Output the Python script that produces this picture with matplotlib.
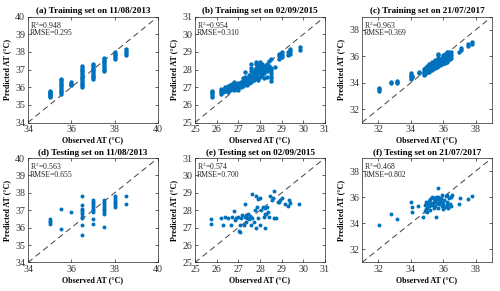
import matplotlib
matplotlib.use("Agg")
import matplotlib.pyplot as plt
import numpy as np

plt.rcParams["font.family"] = ["Liberation Serif", "DejaVu Serif"]
plt.rcParams["mathtext.fontset"] = "stix"

BLUE = "#0072BD"
GREY = "#262626"

# (a) training 11/08/2013
obs_a = [35.0] * 8 + [35.5] * 10 + [36.0] * 4 + [36.5] * 13 + [37.0] * 10 + [37.5] * 9 + [38.0] * 5 + [38.5] * 4
pred_a = [35.45, 35.5, 35.55, 35.6, 35.65, 35.7, 35.75, 35.8,
          35.6, 35.7, 35.8, 35.9, 36.0, 36.1, 36.2, 36.3, 36.4, 36.45,
          36.1, 36.15, 36.2, 36.3,
          36.0, 36.1, 36.2, 36.3, 36.4, 36.5, 36.6, 36.7, 36.8, 36.9, 36.95, 37.1, 37.2,
          36.45, 36.55, 36.65, 36.75, 36.85, 36.95, 37.05, 37.15, 37.25, 37.3,
          36.9, 37.0, 37.1, 37.2, 37.3, 37.4, 37.5, 37.6, 37.65,
          37.6, 37.7, 37.8, 37.9, 38.0,
          37.85, 37.95, 38.05, 38.15]

# (b) training 02/09/2015
obs_b = ([25.8] * 5 + [26.2] * 4 + [26.3] * 2 + [26.4] * 3 + [26.5] * 3 + [26.6] * 3 + [26.7] * 3
         + [26.8] * 4 + [26.9] * 3 + [27.0] * 4 + [27.1] * 3 + [27.2] * 4 + [27.3] * 4 + [27.4] * 3
         + [27.5] * 4 + [27.6] * 6 + [27.7] * 4 + [27.8] * 6 + [27.9] * 5 + [28.0] * 5 + [28.1] * 4
         + [28.2] * 4 + [28.3] * 4 + [28.4] * 3 + [28.5] * 7 + [28.7] * 1 + [28.9] * 3 + [29.0] * 3
         + [29.3] * 2 + [29.4] * 3 + [29.85] * 2)
pred_b = [26.45, 26.55, 26.65, 26.75, 26.8,
          26.6, 26.7, 26.8, 26.9,
          26.7, 26.85,
          26.8, 26.95, 27.0,
          26.75, 26.9, 27.05,
          26.85, 27.0, 27.1,
          26.9, 27.05, 27.2,
          26.85, 27.0, 27.15, 27.3,
          26.9, 27.05, 27.2,
          26.85, 27.0, 27.1, 27.25,
          27.0, 27.15, 27.3,
          27.05, 27.2, 27.35, 27.5,
          27.2, 27.35, 27.6, 27.85,
          27.1, 27.3, 27.45,
          27.25, 27.4, 27.55, 27.7,
          27.3, 27.5, 27.7, 27.9, 28.1, 28.3,
          27.4, 27.6, 27.8, 28.0,
          27.5, 27.7, 27.9, 28.1, 28.3, 28.4,
          27.4, 27.6, 27.85, 28.05, 28.25,
          27.6, 27.8, 28.0, 28.2, 28.4,
          27.7, 27.9, 28.1, 28.3,
          27.5, 27.8, 28.0, 28.2,
          27.6, 27.9, 28.1, 28.3,
          28.0, 28.2, 28.5,
          27.35, 27.5, 27.65, 27.8, 27.95, 28.1, 28.6,
          28.15,
          28.6, 28.75, 28.9,
          28.7, 28.85, 29.0,
          28.85, 29.0,
          28.9, 29.05, 29.15,
          29.1, 29.25]

# (c) training 21/07/2017
obs_c = ([32.05] * 3 + [32.8] * 2 + [33.15] * 3 + [34.0] * 5 + [34.1] * 2 + [34.5] * 2
         + [34.8] * 4 + [34.9] * 4 + [35.0] * 4 + [35.1] * 5 + [35.2] * 4 + [35.3] * 5 + [35.4] * 4
         + [35.5] * 5 + [35.6] * 4 + [35.7] * 7 + [35.8] * 4 + [35.9] * 4 + [36.0] * 5 + [36.1] * 5
         + [36.2] * 6 + [36.3] * 5 + [36.4] * 4 + [36.5] * 3
         + [36.95, 37.1, 37.1, 37.55, 37.55, 37.75, 37.75])
pred_c = [33.4, 33.5, 33.6,
          33.95, 34.05,
          33.95, 34.05, 34.15,
          34.3, 34.4, 34.5, 34.6, 34.75,
          34.4, 34.55,
          34.75, 34.85,
          34.6, 34.75, 34.9, 35.05,
          34.7, 34.85, 35.0, 35.15,
          34.8, 34.95, 35.1, 35.25,
          34.85, 35.0, 35.15, 35.3, 35.45,
          34.95, 35.1, 35.25, 35.4,
          35.0, 35.15, 35.3, 35.45, 35.6,
          35.1, 35.25, 35.4, 35.55,
          35.1, 35.3, 35.45, 35.6, 35.75,
          35.2, 35.35, 35.5, 35.65,
          35.3, 35.45, 35.6, 35.75, 35.9, 36.1, 36.2,
          35.35, 35.5, 35.65, 35.8,
          35.4, 35.55, 35.7, 35.85,
          35.5, 35.65, 35.8, 35.95, 36.1,
          35.5, 35.7, 35.85, 36.0, 36.15,
          35.6, 35.75, 35.9, 36.05, 36.2, 36.3,
          35.7, 35.85, 36.0, 36.15, 36.3,
          35.8, 35.95, 36.1, 36.25,
          35.9, 36.1, 36.3,
          36.3, 36.5, 36.6, 36.8, 36.9, 36.95, 37.05]

# (d) testing 11/08/2013
obs_d = [35.0] * 4 + [35.5] * 2 + [36.0] + [36.5] * 10 + [37.0] * 10 + [37.5] * 10 + [38.0] * 7 + [38.5] * 2
pred_d = [36.2, 36.3, 36.4, 36.5,
          37.05, 35.95,
          36.9,
          37.8, 37.3, 37.1, 37.0, 36.9, 36.8, 36.6, 36.55, 36.15, 35.55,
          37.6, 37.5, 37.4, 37.3, 37.2, 37.1, 37.0, 36.9, 36.5, 36.2,
          37.6, 37.5, 37.4, 37.3, 37.2, 37.1, 37.0, 36.9, 36.8, 36.05,
          37.8, 37.7, 37.6, 37.5, 37.4, 37.3, 37.2,
          37.8, 37.35]

# (e) testing 02/09/2015
obs_e = [25.76, 25.76, 26.19, 26.3, 26.4, 26.53, 26.65, 26.73, 26.8, 26.83,
         26.91, 26.98, 27.06, 27.06, 27.02, 27.14, 27.17, 27.26, 27.29, 27.3, 27.37, 27.37,
         27.41, 27.44, 27.47, 27.52, 27.6, 27.63, 27.63, 27.72, 27.75, 27.82, 27.82,
         27.87, 27.9, 27.9, 27.98, 28.02, 28.05, 28.13, 28.18, 28.21, 28.24, 28.25,
         28.28, 28.33, 28.39, 28.43, 28.48, 28.54, 28.59, 28.63, 28.66, 28.74,
         28.82, 28.89, 28.94, 29.0, 29.15, 29.27, 29.35, 29.4, 29.81]
pred_e = [27.5, 27.23, 27.54, 27.16, 27.62, 27.54, 27.16, 27.62, 27.96, 27.42,
          27.54, 27.62, 27.16, 26.73, 26.78, 27.54, 27.73, 27.16, 27.62, 28.37, 27.73, 27.35,
          27.54, 27.77, 27.5, 27.69, 27.16, 28.92, 27.54, 27.35, 28.04, 28.81, 27.0,
          28.19, 28.66, 27.54, 27.16, 28.73, 28.04, 28.19, 27.62, 26.96, 27.77, 28.15,
          27.81, 28.16, 27.89, 27.62, 28.81, 28.58, 28.69, 29.08, 27.54, 27.58,
          28.5, 28.5, 28.58, 28.69, 28.35, 28.27, 28.58, 28.39, 28.35]

# (f) testing 21/07/2017
obs_f = [32.04, 32.8, 33.13, 34.0, 34.05, 34.05, 34.45, 34.75, 35.55, 35.7, 36.2, 36.55,
         36.95, 37.05, 37.55, 37.75,
         34.85, 34.9, 34.95, 35.0, 35.0, 35.05, 35.1, 35.15, 35.2, 35.2, 35.25, 35.3,
         35.35, 35.4, 35.4, 35.45, 35.5, 35.5, 35.55, 35.6, 35.65, 35.7, 35.7, 35.75,
         35.8, 35.85, 35.9, 35.9, 35.95, 36.0, 36.0, 36.05, 36.1, 36.15, 36.2, 36.25,
         36.3, 36.35, 36.4, 36.5, 36.5, 35.3, 34.95]
pred_f = [33.85, 34.75, 34.35, 35.65, 35.25, 34.85, 35.3, 34.45, 34.5, 36.7, 36.2, 36.15,
          35.5, 35.95, 35.85, 36.1,
          34.95, 35.4, 35.6, 35.2, 34.9, 35.5, 35.7, 35.3, 35.0, 35.85, 35.55, 35.4,
          35.9, 35.15, 35.65, 35.95, 35.3, 35.75, 36.0, 35.55, 35.85, 35.2, 36.0, 35.45,
          35.7, 35.9, 35.35, 35.6, 36.2, 35.1, 35.5, 35.8, 35.25, 36.1, 35.4, 35.65,
          35.15, 35.9, 35.5, 36.05, 35.3, 36.0, 35.1]

titles = ["(a) Training set on 11/08/2013", "(b) Training set on 02/09/2015",
          "(c) Training set on 21/07/2017", "(d) Testing set on 11/08/2013",
          "(e) Testing set on 02/09/2015", "(f) Testing set on 21/07/2017"]
r2_vals = ["0.948", "0.954", "0.963", "0.563", "0.574", "0.468"]
rmse_vals = ["0.295", "0.310", "0.369", "0.655", "0.700", "0.802"]

obs_all = [obs_a, obs_b, obs_c, obs_d, obs_e, obs_f]
pred_all = [pred_a, pred_b, pred_c, pred_d, pred_e, pred_f]

limits = [(34, 40), (25, 31), (31, 39)] * 2
xticks = [[34, 36, 38, 40], [25, 26, 27, 28, 29, 30, 31], [32, 34, 36, 38]] * 2
yticks = [[34, 35, 36, 37, 38, 39, 40], [25, 26, 27, 28, 29, 30, 31], [32, 34, 36, 38]] * 2

fig = plt.figure(figsize=(5.0, 2.91), dpi=100)
lefts = [0.056, 0.39, 0.724]
rows = [(0.579, 0.364), (0.098, 0.359)]

for i in range(6):
    r, c = divmod(i, 3)
    ax = fig.add_axes([lefts[c], rows[r][0], 0.26, rows[r][1]])
    lo, hi = limits[i]
    s = 10 if r == 0 else 8
    ax.scatter(obs_all[i], pred_all[i], s=s, color=BLUE, linewidths=0, zorder=3)
    ax.plot([lo, hi], [lo, hi], color="#404040", lw=0.7, ls=(0, (6, 4)), zorder=2)
    ax.set_xlim(lo, hi)
    ax.set_ylim(lo, hi)
    ax.set_xticks(xticks[i])
    ax.set_yticks(yticks[i])
    ax.tick_params(direction="in", length=2, width=0.5, labelsize=7.2,
                   colors=GREY, labelcolor="#333333", top=True, right=True, pad=2)
    for sp in ax.spines.values():
        sp.set_linewidth(0.5)
        sp.set_color(GREY)
    ax.set_title(titles[i], fontsize=6.6, fontweight="bold", pad=2.5)
    ax.set_xlabel("Observed AT (°C)", fontsize=5.8, fontweight="bold", labelpad=1.5)
    ax.set_ylabel("Predicted AT (°C)", fontsize=5.8, fontweight="bold", labelpad=3)
    ax.text(0.015, 0.975, "R$^2$=" + r2_vals[i], transform=ax.transAxes,
            fontsize=5.6, va="top", ha="left", color=GREY)
    ax.text(0.015, 0.88, "RMSE=" + rmse_vals[i], transform=ax.transAxes,
            fontsize=5.6, va="top", ha="left", color=GREY)

fig.savefig("out.png", dpi=100)
